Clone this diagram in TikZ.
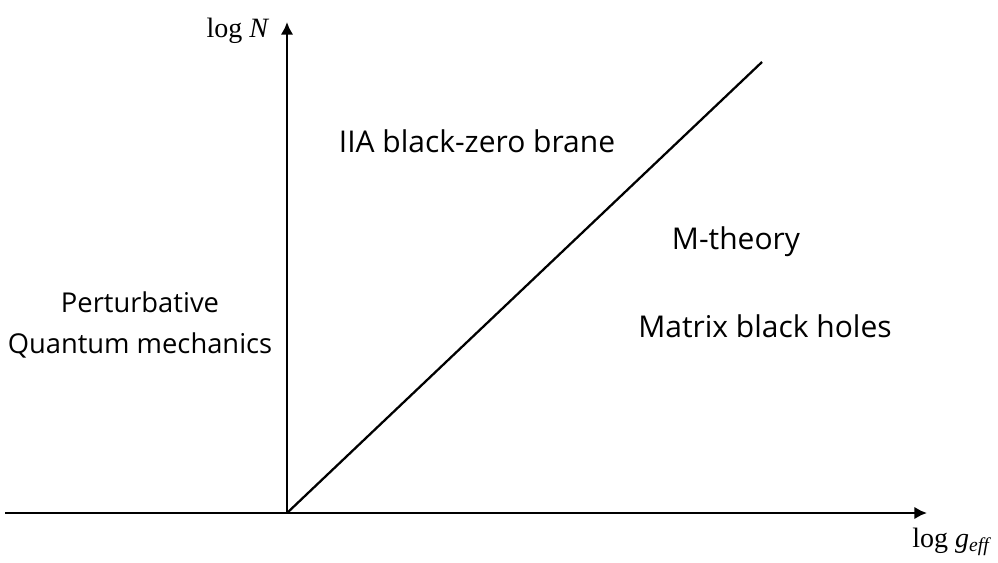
\documentclass[tikz,border=0pt]{standalone}
\usepackage{fontspec}
\setmainfont{Liberation Serif}
\newfontfamily\regionfont{Open Sans}
\usetikzlibrary{arrows.meta}

\tikzset{every picture/.style={line width=1.9pt}}
\tikzset{region/.style={font=\regionfont\fontsize{22.5}{27}\selectfont, align=center, inner sep=0pt}}
\tikzset{axislabel/.style={font=\fontsize{21}{24}\selectfont, inner sep=0pt}}

\begin{document}
\begin{tikzpicture}[x=0.75pt,y=0.75pt,yscale=-1,xscale=1]
\useasboundingbox (0,0) rectangle (998,563);

%Origin and axis ends
\coordinate (O) at (287,513);
\coordinate (xend) at (927,513);
\coordinate (xstart) at (5,513);
\coordinate (yend) at (287,22);
\coordinate (diag) at (762,62);

%Axes
\draw [-{Latex[length=9.5pt,width=9.5pt]}] (xstart) -- (xend);
\draw [-{Latex[length=9.5pt,width=9.5pt]}] (O) -- (yend);
%Straight Lines
\draw [line width=1.7pt] (O) -- (diag);

% Text Node
\node [axislabel] (ylab) at (238,31) {log \textit{N}};
\node [axislabel] (xlab) at (952,542) {log \textit{g}\textsubscript{\textit{eff}}};

\node [region] (brane) at (477,141) {IIA black-zero brane};
\node [region] (mth) at (736,242) {M-theory};
\node [region] (matrix) at (765,326) {Matrix black holes};
\node [region, font=\regionfont\fontsize{20.5}{25}\selectfont] (pqm) at (140,325) {Perturbative\\[6pt]Quantum mechanics};
\end{tikzpicture}
\end{document}
